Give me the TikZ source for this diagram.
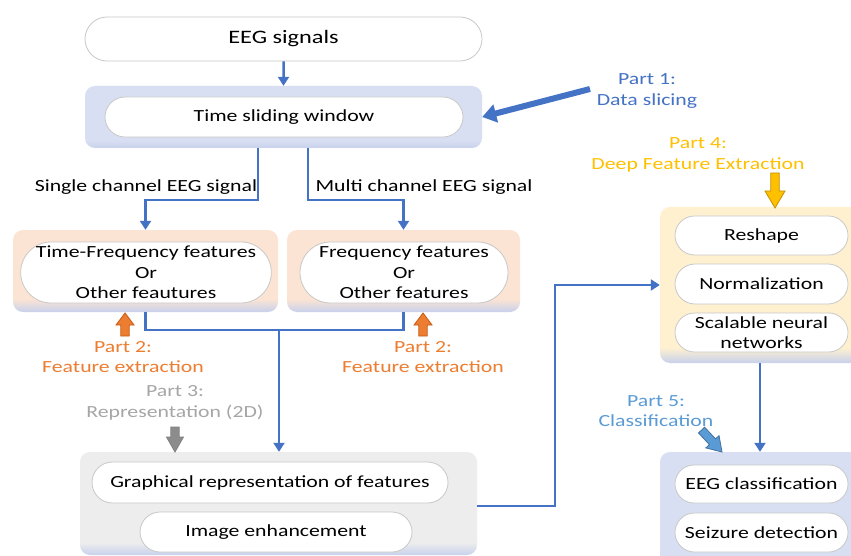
\documentclass[tikz,border=0pt]{standalone}
\usepackage{fontspec}
\setmainfont[FakeStretch=1.28]{Carlito}
\usetikzlibrary{arrows.meta,shapes.misc}
\definecolor{cblue}{HTML}{D9DFF2}
\definecolor{cpeach}{HTML}{FBE4D3}
\definecolor{cyell}{HTML}{FFF1D0}
\definecolor{cgray}{HTML}{EDEDED}
\definecolor{tintb}{HTML}{C7D1EC}
\definecolor{connb}{HTML}{4472C4}
\definecolor{p1blue}{HTML}{4472C4}
\definecolor{p2orng}{HTML}{ED7D31}
\definecolor{p2dark}{HTML}{C55A11}
\definecolor{p3gray}{HTML}{A6A6A6}
\definecolor{p3arrow}{HTML}{8C8C8C}
\definecolor{p4gold}{HTML}{FFC000}
\definecolor{p4dark}{HTML}{BF9000}
\definecolor{p5blue}{HTML}{5B9BD5}
\definecolor{p5dark}{HTML}{41719C}
\definecolor{pillgray}{HTML}{C8C8C8}
\pgfdeclareverticalshading{shblue}{100bp}{color(0bp)=(tintb); color(25bp)=(tintb); color(31bp)=(cblue); color(100bp)=(cblue)}
\pgfdeclareverticalshading{shpeach}{100bp}{color(0bp)=(tintb); color(25bp)=(tintb); color(33bp)=(cpeach); color(100bp)=(cpeach)}
\pgfdeclareverticalshading{shyell}{100bp}{color(0bp)=(tintb); color(25bp)=(tintb); color(30bp)=(cyell); color(100bp)=(cyell)}
\pgfdeclareverticalshading{shgray}{100bp}{color(0bp)=(tintb); color(25bp)=(tintb); color(31bp)=(cgray); color(100bp)=(cgray)}
\tikzset{
  outerbox/.style={rectangle, rounded corners=10pt, inner sep=0pt, draw=none},
  pill/.style={rounded rectangle, draw=pillgray, line width=0.8pt, fill=white, inner sep=0pt, align=center},
  conn/.style={draw=connb, line width=2.5pt, -{Triangle[length=9pt,width=11pt]}},
  line/.style={draw=connb, line width=2.5pt},
  lbl/.style={align=center, inner sep=0pt},
}
% block arrow: #1 tip, #2 direction angle, #3 total length, #4 fill, #5 outline, #6 head length, #7 half head width
\newcommand{\blockarrowdraw}[7]{%
  \begin{scope}[shift={#1}, rotate=#2]
    \draw[fill=#4, draw=#5, line width=0.8pt, line join=miter]
      (0,0) -- (-#6,#7) -- (-#6,4.2) -- (-#3,4.2) -- (-#3,-4.2) -- (-#6,-4.2) -- (-#6,-#7) -- cycle;
  \end{scope}}
\begin{document}
\begin{tikzpicture}[x=1pt,y=-1pt,font=\fontsize{17}{20.5}\selectfont]
\useasboundingbox (0,0) rectangle (851,556);
\clip (0,0) rectangle (851,556);
\fill[white] (0,0) rectangle (851,556);

% Part 1
\node[pill, minimum width=397pt, minimum height=44pt, font=\fontsize{19}{22}\selectfont] (eeg) at (283.5,39) {EEG signals};
\node[outerbox, shading=shblue, minimum width=397pt, minimum height=62pt] (tswbox) at (283.5,117) {};
\node[pill, minimum width=358pt, minimum height=40pt] (tsw) at (284,117) {Time sliding window};
\draw[conn] (eeg) -- (tswbox);

\node[lbl, text=p1blue] (p1) at (647,91) {Part 1:\\Data slicing};
\coordinate (p1s) at (590,89);
\draw[draw=p1blue, line width=6pt, -{Triangle[length=14pt,width=18pt]}] (p1s) -- (tswbox.east);

% branch
\node[lbl] (single) at (146,187) {Single channel EEG signal};
\node[lbl] (multi) at (424,187) {Multi channel EEG signal};

\node[outerbox, shading=shpeach, minimum width=265pt, minimum height=82pt] (tfbox) at (145.5,271) {};
\node[pill, minimum width=242pt, minimum height=61pt] (tf) at (146,272.5) {Time-Frequency features\\Or\\Other feautures};
\node[outerbox, shading=shpeach, minimum width=233pt, minimum height=82pt] (fbox) at (403.5,271) {};
\node[pill, minimum width=208pt, minimum height=61pt] (ff) at (404,272.5) {Frequency features\\Or\\Other features};

\coordinate (b1) at (258,200);
\coordinate (b2) at (308,200);
\draw[conn] (tswbox.south -| b1) -- (b1) -- (b1 -| tfbox.north) -- (tfbox.north);
\draw[conn] (tswbox.south -| b2) -- (b2) -- (b2 -| fbox.north) -- (fbox.north);

% Part 2
\blockarrowdraw{(125,313)}{90}{23}{p2orng}{p2dark}{12}{9}
\blockarrowdraw{(423,313)}{90}{23}{p2orng}{p2dark}{12}{9}
\node[lbl, text=p2orng] (p2l) at (123,357) {Part 2:\\Feature extraction};
\node[lbl, text=p2orng] (p2r) at (423,357) {Part 2:\\Feature extraction};

% Part 3
\node[outerbox, shading=shgray, minimum width=397pt, minimum height=103pt] (repbox) at (278.5,503.5) {};
\node[pill, minimum width=356pt, minimum height=41pt] (gr) at (270,482.5) {Graphical representation of features};
\node[pill, minimum width=272pt, minimum height=40pt] (ie) at (276,532) {Image enhancement};
\node[lbl, text=p3gray] (p3) at (175,403) {Part 3:\\Representation (2D)};
\blockarrowdraw{(175,452)}{-90}{25}{p3arrow}{gray}{15}{8.5}

\coordinate (j) at (279,330);
\draw[line] (tfbox.south) -- (tfbox.south |- j) -- (fbox.south |- j) -- (fbox.south);
\draw[conn] (j) -- (repbox.north -| j);

% Part 4
\node[outerbox, shading=shyell, minimum width=200pt, minimum height=156pt] (dfebox) at (760,285) {};
\node[pill, minimum width=173pt, minimum height=39pt] (resh) at (761.5,235.5) {Reshape};
\node[pill, minimum width=173pt, minimum height=40pt] (norm) at (761.5,284) {Normalization};
\node[pill, minimum width=173pt, minimum height=39pt] (snn) at (761.5,332.5) {Scalable neural\\networks};
\node[lbl, text=p4gold] (p4) at (698,155) {Part 4:\\Deep Feature Extraction};
\blockarrowdraw{(775,208)}{-90}{35}{p4gold}{p4dark}{17}{10}

\coordinate (r1) at (555,506);
\draw[conn] (repbox.east |- r1) -- (r1) |- (dfebox.west);

% Part 5
\node[outerbox, shading=shblue, minimum width=200pt, minimum height=118pt] (clsbox) at (760,511) {};
\node[pill, minimum width=173pt, minimum height=38pt] (eegc) at (761.5,484) {EEG classification};
\node[pill, minimum width=173pt, minimum height=39pt] (seiz) at (761.5,532.5) {Seizure detection};
\node[lbl, text=p5blue] (p5) at (656,411) {Part 5:\\Classification};
\blockarrowdraw{(722,452)}{-47}{30}{p5blue}{p5dark}{14}{9}

\draw[conn] (dfebox.south) -- (clsbox.north);
\end{tikzpicture}
\end{document}
